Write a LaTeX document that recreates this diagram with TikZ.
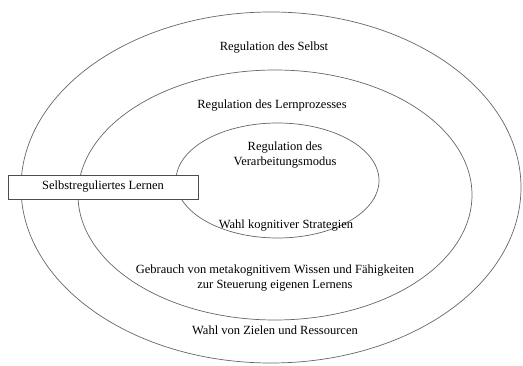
\documentclass[tikz,border=0pt]{standalone}
\usepackage{fontspec}
\setmainfont{Liberation Serif}
\usetikzlibrary{shapes.geometric}
\begin{document}
\begin{tikzpicture}[x=1pt,y=-1pt,
  ring/.style={draw=black!60, line width=0.7pt},
  lbl/.style={font=\fontsize{12.5}{14.5}\selectfont, align=center, inner sep=0pt},
  boxnode/.style={draw=black!70, fill=white, line width=0.7pt, minimum width=190pt, minimum height=24pt, inner sep=0pt, font=\fontsize{12.5}{14.5}\selectfont}]
\useasboundingbox (0,0) rectangle (523,366);
\node[ring, ellipse, minimum width=500pt, minimum height=351pt, inner sep=0pt] (outer) at (271,187.5) {};
\node[ring, ellipse, minimum width=394pt, minimum height=250pt, inner sep=0pt] (middle) at (275,195) {};
\node[ring, ellipse, minimum width=203pt, minimum height=115pt, inner sep=0pt] (inner) at (277.5,180.5) {};
\node[boxnode] (box) at (103,187) {Selbstreguliertes Lernen};
\node[lbl] (t1) at (274,48) {Regulation des Selbst};
\node[lbl] (t2) at (272,106) {Regulation des Lernprozesses};
\node[lbl] (t3) at (285,155) {Regulation des\\Verarbeitungsmodus};
\node[lbl] (t4) at (286,226) {Wahl kognitiver Strategien};
\node[lbl] (t5) at (275,278) {Gebrauch von metakognitivem Wissen und Fähigkeiten\\zur Steuerung eigenen Lernens};
\node[lbl] (t6) at (275,330) {Wahl von Zielen und Ressourcen};
\end{tikzpicture}
\end{document}
